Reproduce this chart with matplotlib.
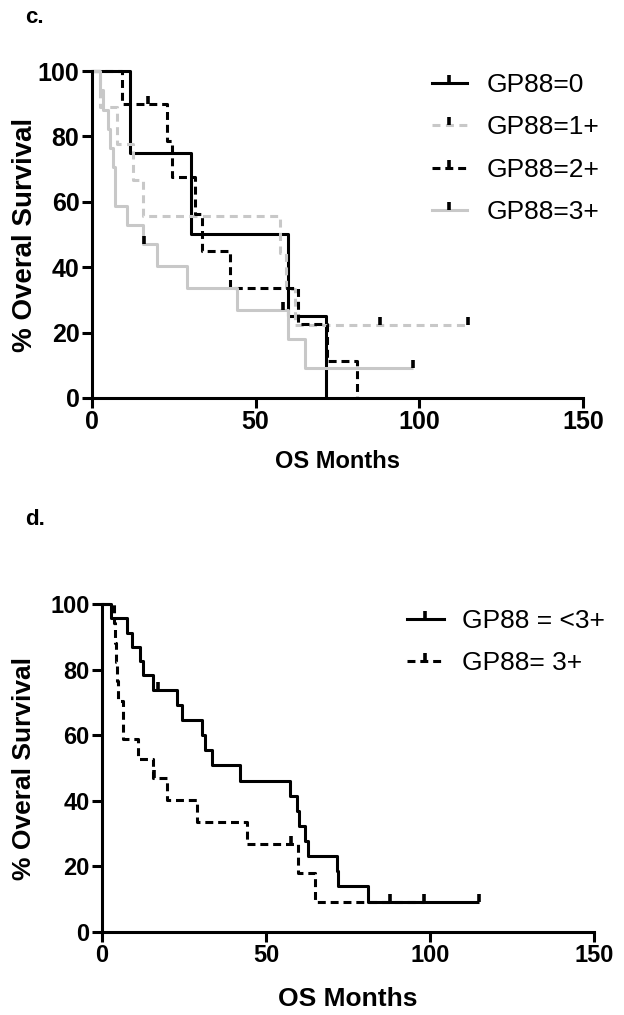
import numpy as np
import matplotlib
matplotlib.use("Agg")
from matplotlib import pyplot as plt
from matplotlib.lines import Line2D

plt.rcParams['font.family'] = ['Liberation Sans', 'DejaVu Sans']

# Panel c: survival steps (months, % surviving)
c0_t = [0, 11.7, 30.4, 60.0, 71.5]
c0_s = [100, 75, 50, 25, 0]
c0_cens = []

c1_t = [0, 2.4, 7.5, 12.6, 15.7, 57.3, 59.4, 61.9, 115]
c1_s = [100, 88.9, 77.8, 66.7, 55.6, 44.4, 33.3, 22.2, 22.2]
c1_cens = [88, 115]

c2_t = [0, 9.1, 22.8, 24.4, 31.5, 33.5, 42.2, 62.9, 71.8, 80.9]
c2_s = [100, 90, 78.75, 67.5, 56.25, 45, 33.75, 22.5, 11.25, 0]
c2_cens = [17.2]

c3_t = [0, 2.5, 3.5, 5.0, 5.5, 6.5, 7.0, 10.6, 15.7, 19.8, 29.0, 44.2, 59.8, 65.1, 98.2]
c3_s = [100, 94.1, 88.2, 82.4, 76.5, 70.6, 58.8, 52.9, 47.1, 40.3, 33.6, 26.9, 17.9, 9.0, 9.0]
c3_cens = [15.9, 58.5, 98.2]

c_labels = ["GP88=0", "GP88=1+", "GP88=2+", "GP88=3+"]

# Panel d: <3+ pooled vs 3+
d0_t = [0, 2.6, 7.5, 9.0, 11.6, 12.6, 15.6, 23.0, 24.3, 30.4, 31.4, 33.4, 42.1,
        57.3, 59.4, 60.2, 61.9, 62.9, 71.5, 72.0, 81.2, 115]
d0_s = [100, 95.7, 91.3, 87.0, 82.6, 78.3, 73.9, 69.3, 64.7, 60.1, 55.5, 50.8, 46.2,
        41.6, 37.0, 32.3, 27.7, 23.1, 18.5, 13.9, 9.2, 9.2]
d0_cens = [17.2, 87.8, 115]

d1_t = [0, 3.5, 4.0, 4.3, 4.6, 5.0, 6.5, 11.1, 15.6, 19.7, 28.9, 44.1, 59.7, 64.9, 98.2]
d1_s = [100, 94.1, 88.2, 82.4, 76.5, 70.6, 58.8, 52.9, 47.1, 40.3, 33.6, 26.9, 17.9, 9.0, 9.0]
d1_cens = [15.9, 57.5, 98.2]

d_labels = ["GP88 = <3+", "GP88= 3+"]

GRAY = "#c8c8c8"
LW = 2.2
TICK = [(0, 0), (0, 1)]  # censor tick pointing up


def km_curve(ax, t, s, cens, color, dashes):
    ls = (0, dashes) if dashes else "-"
    ax.step(t, s, where="post", color=color, lw=LW, ls=ls, clip_on=False,
            solid_capstyle="butt", dash_capstyle="butt")
    if cens:
        idx = np.searchsorted(t, cens, side="right") - 1
        ys = np.array(s)[idx]
        ax.plot(cens, ys, ls="none", marker=TICK, ms=11, mew=2.6,
                color="black", clip_on=False)
    return Line2D([], [], color=color, lw=LW, ls=ls, marker=TICK, ms=11,
                  mew=2.6, mec="black", dash_capstyle="butt")


def style_axes(ax, tick_size, xlab_size, ylab_size, ypad, xpad):
    for side in ["top", "right"]:
        ax.spines[side].set_visible(False)
    for side in ["left", "bottom"]:
        ax.spines[side].set_linewidth(2.2)
    ax.set_xlim(0, 150)
    ax.set_ylim(0, 100)
    ax.set_xticks([0, 50, 100, 150])
    ax.set_yticks([0, 20, 40, 60, 80, 100])
    ax.tick_params(direction="out", length=7, width=2.2, labelsize=tick_size, pad=2)
    for lab in ax.get_xticklabels() + ax.get_yticklabels():
        lab.set_fontweight("bold")
    ax.set_xlabel("OS Months", fontsize=xlab_size, fontweight="bold", labelpad=xpad)
    ax.set_ylabel("% Overal Survival", fontsize=ylab_size, fontweight="bold",
                  labelpad=ypad)


fig = plt.figure(figsize=(6.24, 10.15), dpi=100)

# ---- panel c ----
ax_c = fig.add_axes([0.1474, 0.608, 0.7868, 0.322])
h = []
h.append(km_curve(ax_c, c0_t, c0_s, c0_cens, "black", None))
h.append(km_curve(ax_c, c1_t, c1_s, c1_cens, GRAY, (2.6, 1.8)))
h.append(km_curve(ax_c, c2_t, c2_s, c2_cens, "black", (2.6, 1.6)))
h.append(km_curve(ax_c, c3_t, c3_s, c3_cens, GRAY, None))
style_axes(ax_c, 18, 17, 20, 0, 11)
ax_c.legend(h, c_labels, loc="upper left", bbox_to_anchor=(0.644, 1.067),
            frameon=False, fontsize=19, handlelength=1.33, handletextpad=0.76,
            labelspacing=0.7, numpoints=1)
fig.text(0.04, 0.977, "c.", fontsize=16, fontweight="bold")

# ---- panel d ----
ax_d = fig.add_axes([0.1635, 0.0818, 0.7885, 0.323])
h = []
h.append(km_curve(ax_d, d0_t, d0_s, d0_cens, "black", None))
h.append(km_curve(ax_d, d1_t, d1_s, d1_cens, "black", (2.6, 1.6)))
style_axes(ax_d, 17, 19, 19, 10, 14)
ax_d.legend(h, d_labels, loc="upper left", bbox_to_anchor=(0.571, 1.058),
            frameon=False, fontsize=19, handlelength=1.4, handletextpad=0.7,
            labelspacing=0.7, numpoints=1)
fig.text(0.04, 0.483, "d.", fontsize=16, fontweight="bold")

fig.savefig("out.png", dpi=100)
